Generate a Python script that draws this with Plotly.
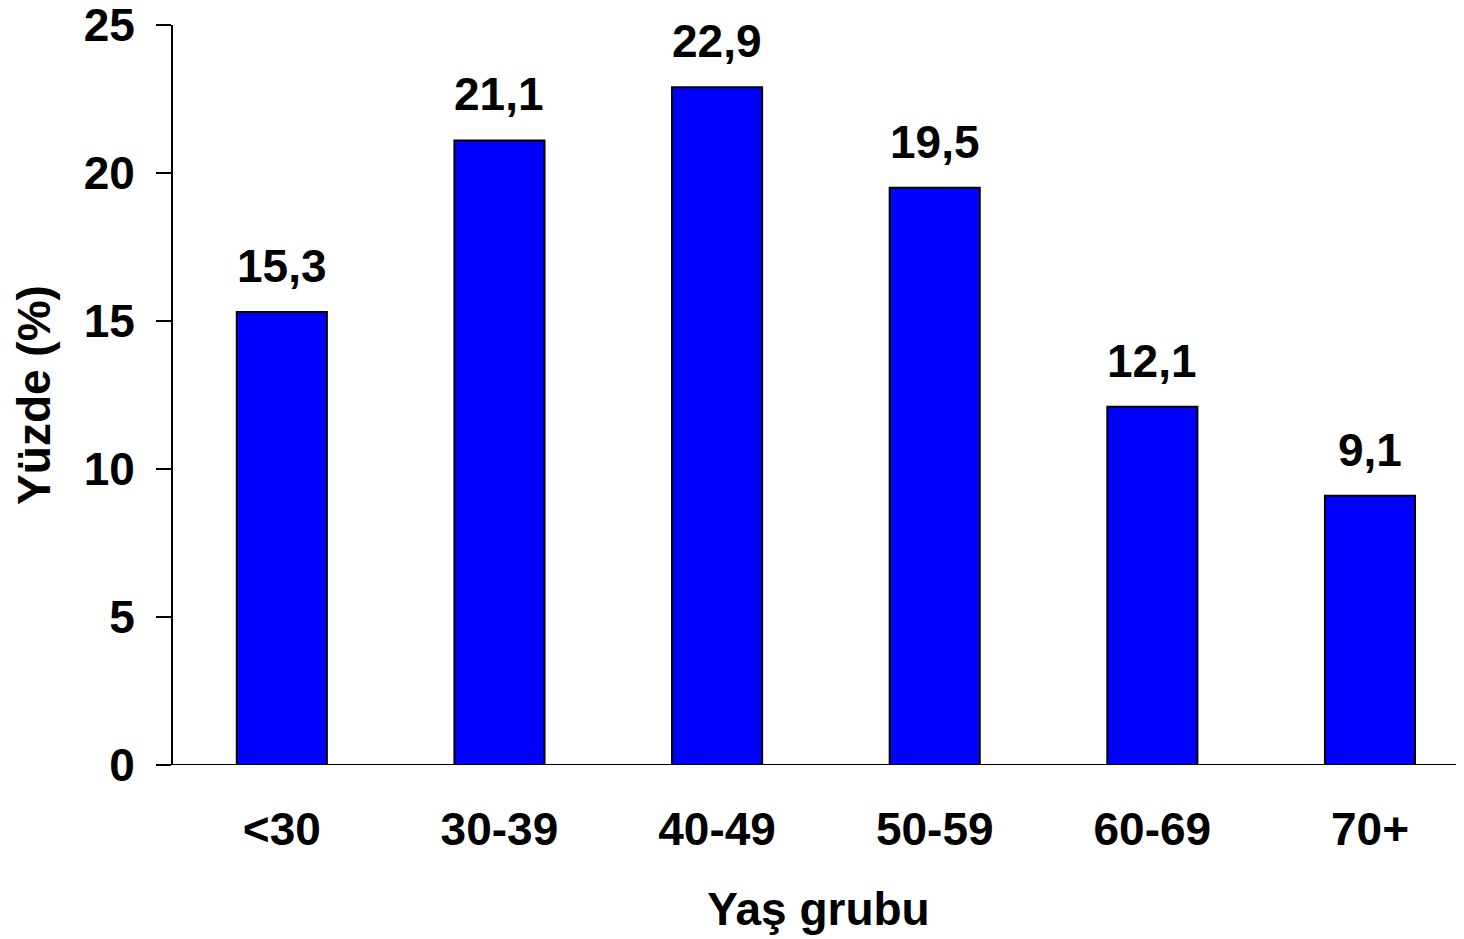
import plotly.graph_objects as go

categories = ["<30", "30-39", "40-49", "50-59", "60-69", "70+"]
values = [15.3, 21.1, 22.9, 19.5, 12.1, 9.1]
value_labels = ["15,3", "21,1", "22,9", "19,5", "12,1", "9,1"]
y_ticks = [0, 5, 10, 15, 20, 25]

FONT = "Liberation Sans, Arial, sans-serif"
FS = 46

fig = go.Figure()
fig.add_trace(go.Bar(
    x=list(range(len(categories))), y=values,
    width=0.414,
    marker=dict(color="#0000FF", line=dict(color="black", width=2)),
    hoverinfo="skip",
))

for i, (v, t) in enumerate(zip(values, value_labels)):
    fig.add_annotation(x=i, y=v, text=f"<b>{t}</b>", showarrow=False,
                       yanchor="bottom", yshift=18,
                       font=dict(family=FONT, size=FS, color="black"))

fig.update_layout(
    width=1456, height=931,
    margin=dict(l=165, r=0, t=17, b=174, autoexpand=False),
    paper_bgcolor="white", plot_bgcolor="white",
    showlegend=False,
    font=dict(family=FONT, size=FS, color="black"),
)
fig.update_xaxes(
    range=[-0.5, 5.432],
    tickmode="array", tickvals=list(range(len(categories))),
    ticktext=[f"<b>{c}</b>" for c in categories],
    ticks="", showgrid=False, zeroline=False,
    showline=False, automargin=False,
    ticklabelstandoff=33, ticklabeloverflow="allow",
    title=dict(text="<b>Yaş grubu</b>", standoff=38,
               font=dict(family=FONT, size=FS)),
)
fig.update_yaxes(
    range=[0, 25],
    tickmode="array", tickvals=y_ticks,
    ticktext=[f"<b>{t}</b>" for t in y_ticks],
    ticks="outside", ticklen=15, tickwidth=2, tickcolor="black",
    showline=True, linecolor="black", linewidth=2,
    showgrid=False, zeroline=False, automargin=False,
    ticklabelstandoff=12, ticklabeloverflow="allow",
    title=dict(text="<b>Yüzde (%)</b>", standoff=27,
               font=dict(family=FONT, size=FS)),
)
# baseline (x axis line) extending from the zero tick to the right edge
fig.add_shape(type="line", xref="paper", yref="y", x0=-15/1291, x1=1, y0=0, y1=0,
              line=dict(color="black", width=2))

fig.write_html("out.html")
